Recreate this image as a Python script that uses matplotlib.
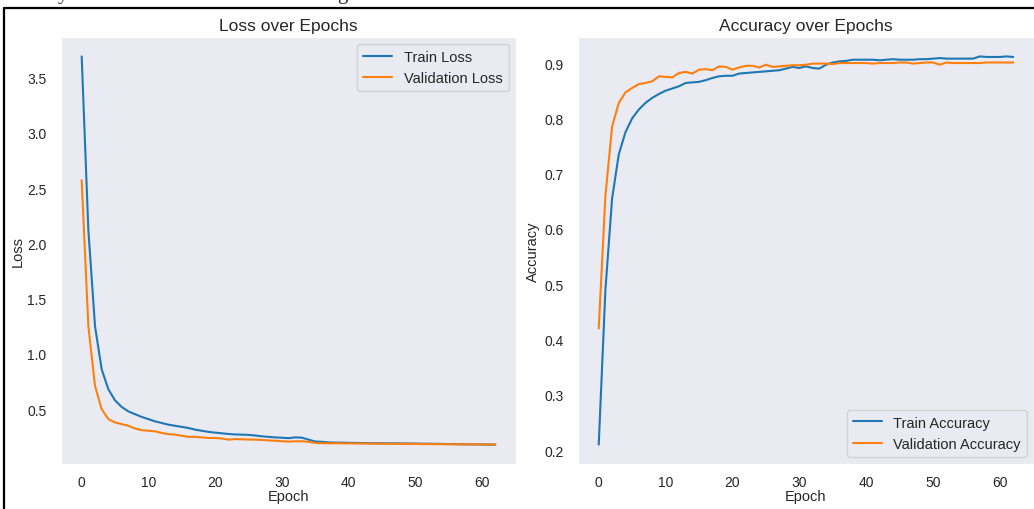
import numpy as np
import matplotlib
matplotlib.use("Agg")
import matplotlib.pyplot as plt
from matplotlib.lines import Line2D
import seaborn as sns

# values (63 epochs, 0..62)
train_loss = [3.69, 2.12, 1.25, 0.86, 0.68, 0.58, 0.52, 0.48, 0.455, 0.43,
              0.41, 0.39, 0.375, 0.36, 0.35, 0.34, 0.33, 0.315, 0.305, 0.295,
              0.288, 0.282, 0.276, 0.272, 0.27, 0.268, 0.262, 0.255, 0.25, 0.245,
              0.242, 0.238, 0.245, 0.243, 0.225, 0.208, 0.205, 0.2, 0.198, 0.197,
              0.196, 0.195, 0.194, 0.193, 0.192, 0.192, 0.191, 0.191, 0.19, 0.19,
              0.189, 0.188, 0.188, 0.187, 0.186, 0.185, 0.184, 0.183, 0.182, 0.182,
              0.181, 0.18, 0.18]
val_loss = [2.57, 1.25, 0.71, 0.5, 0.41, 0.38, 0.365, 0.35, 0.325, 0.31,
            0.305, 0.3, 0.285, 0.275, 0.27, 0.26, 0.25, 0.25, 0.245, 0.24,
            0.24, 0.235, 0.225, 0.23, 0.228, 0.226, 0.225, 0.222, 0.218, 0.215,
            0.21, 0.207, 0.21, 0.21, 0.205, 0.195, 0.193, 0.192, 0.192, 0.191,
            0.191, 0.19, 0.19, 0.189, 0.189, 0.188, 0.188, 0.187, 0.187, 0.186,
            0.186, 0.185, 0.185, 0.184, 0.184, 0.183, 0.183, 0.182, 0.182, 0.182,
            0.181, 0.181, 0.181]
train_acc = [0.21, 0.49, 0.655, 0.735, 0.775, 0.8, 0.816, 0.828, 0.837, 0.844,
             0.85, 0.854, 0.858, 0.864, 0.865, 0.866, 0.869, 0.873, 0.876, 0.877,
             0.877, 0.881, 0.882, 0.883, 0.884, 0.885, 0.886, 0.887, 0.89, 0.893,
             0.891, 0.894, 0.891, 0.89, 0.897, 0.901, 0.903, 0.904, 0.906, 0.906,
             0.906, 0.906, 0.905, 0.906, 0.907, 0.906, 0.906, 0.906, 0.907, 0.907,
             0.908, 0.909, 0.908, 0.908, 0.908, 0.908, 0.908, 0.912, 0.911, 0.911,
             0.911, 0.912, 0.911]
val_acc = [0.42, 0.66, 0.785, 0.828, 0.847, 0.855, 0.862, 0.864, 0.867, 0.876,
           0.875, 0.874, 0.882, 0.884, 0.881, 0.888, 0.889, 0.887, 0.894, 0.893,
           0.888, 0.892, 0.895, 0.895, 0.892, 0.897, 0.893, 0.894, 0.895, 0.896,
           0.896, 0.897, 0.899, 0.899, 0.899, 0.898, 0.9, 0.9, 0.9, 0.9,
           0.9, 0.899, 0.9, 0.9, 0.9, 0.901, 0.901, 0.899, 0.9, 0.901,
           0.901, 0.897, 0.901, 0.9, 0.9, 0.9, 0.9, 0.9, 0.901, 0.901,
           0.901, 0.901, 0.901]
epochs = np.arange(len(train_loss))

sns.set_style("dark")
plt.rcParams['font.family'] = ['Liberation Sans', 'DejaVu Sans']

fig = plt.figure(figsize=(10.34, 5.10), dpi=100)
ax1 = fig.add_axes([61 / 1034, 45 / 510, 455 / 1034, 427 / 510])
ax2 = fig.add_axes([578 / 1034, 45 / 510, 456 / 1034, 427 / 510])

ax1.plot(epochs, train_loss, label='Train Loss', lw=1.5)
ax1.plot(epochs, val_loss, label='Validation Loss', lw=1.5)
ax1.set_title('Loss over Epochs', fontsize=12.5, pad=5)
ax1.set_xlabel('Epoch', fontsize=10.5, labelpad=0)
ax1.set_ylabel('Loss', fontsize=10.5, labelpad=2)
ax1.legend(fontsize=10.5, loc='upper right')

ax2.plot(epochs, train_acc, label='Train Accuracy', lw=1.5)
ax2.plot(epochs, val_acc, label='Validation Accuracy', lw=1.5)
ax2.set_title('Accuracy over Epochs', fontsize=12.5, pad=5)
ax2.set_xlabel('Epoch', fontsize=10.5, labelpad=0)
ax2.set_ylabel('Accuracy', fontsize=10.5, labelpad=3)
ax2.legend(fontsize=10.5, loc='lower right')

for ax in (ax1, ax2):
    ax.tick_params(axis='x', labelsize=10, pad=4.5)
    ax.tick_params(axis='y', labelsize=10, pad=7)

# screenshot frame and the clipped caption above it
fig.add_artist(Line2D([4.3 / 1034, 1.0], [1 - 9 / 510, 1 - 9 / 510], color='black', lw=1.6))
fig.add_artist(Line2D([4.3 / 1034, 4.3 / 1034], [0.0, 1 - 9 / 510], color='black', lw=1.6))
fig.text(58 / 1034, 1 + 1.5 / 510, 'y', family='Liberation Serif', fontsize=15, va='baseline')
fig.text(337 / 1034, 1 + 1.5 / 510, 'g', family='Liberation Serif', fontsize=15, va='baseline')

fig.savefig('out.png', dpi=100)
